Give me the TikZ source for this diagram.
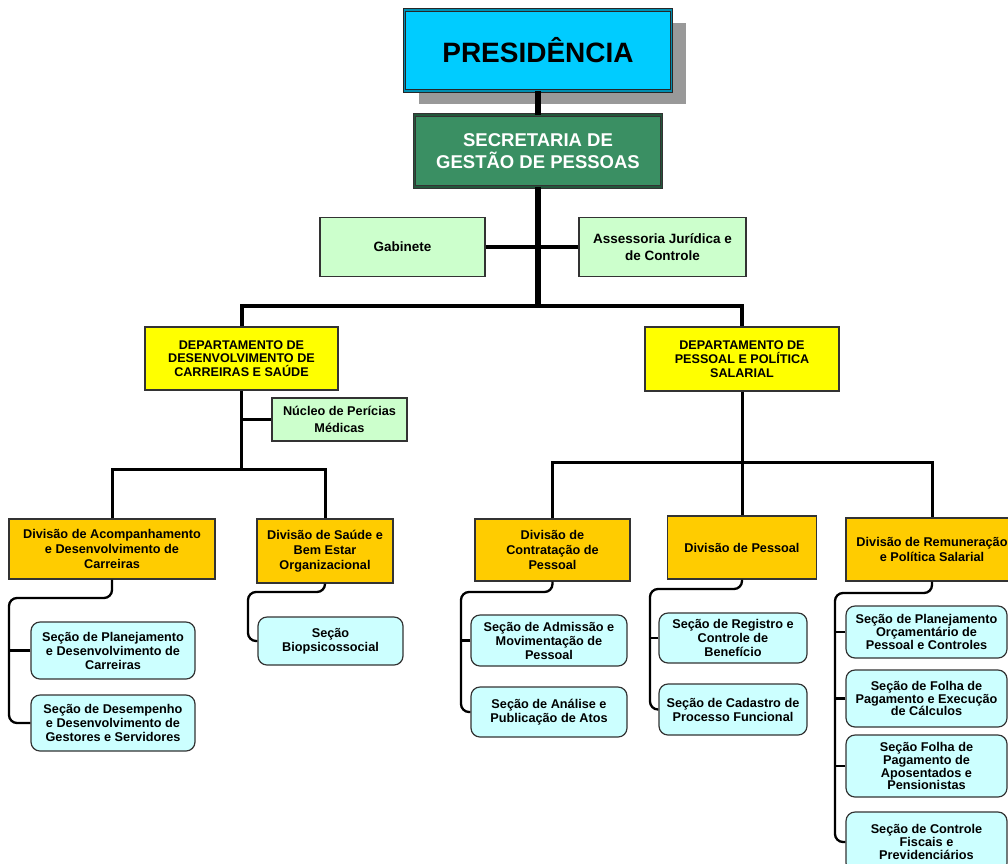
\documentclass[tikz,border=0pt]{standalone}
\usepackage{fontspec}
\setmainfont{Liberation Sans}
\usetikzlibrary{shadows}

\definecolor{presblue}{HTML}{00CCFF}
\definecolor{sgpgreen}{HTML}{3A8F63}
\definecolor{staffgreen}{HTML}{CCFFCC}
\definecolor{deptyellow}{HTML}{FFFF00}
\definecolor{divorange}{HTML}{FFCC00}
\definecolor{secaocyan}{HTML}{CCFFFF}

\begin{document}
\begin{tikzpicture}[x=1pt, y=-1pt, inner sep=0pt,
    box/.style={draw=black!80, line width=1.2pt, align=center,
        font=\bfseries\fontsize{12.7}{15}\selectfont},
    presbox/.style={box, fill=presblue, draw=black!85, line width=0.9pt,
        double=presblue!70!black, double distance=1.6pt,
        font=\bfseries\fontsize{28}{32}\selectfont,
        drop shadow={shadow xshift=14pt, shadow yshift=-13pt, fill=black!40, opacity=1}},
    sgpbox/.style={box, fill=sgpgreen, draw=black!80, line width=0.9pt,
        double=sgpgreen!60!black, double distance=1.6pt, text=white,
        font=\bfseries\fontsize{18.5}{22}\selectfont},
    staff/.style={box, fill=staffgreen, font=\bfseries\fontsize{13.5}{17}\selectfont},
    dept/.style={box, fill=deptyellow, font=\bfseries\fontsize{12.6}{13.8}\selectfont},
    divbox/.style={box, fill=divorange},
    secao/.style={box, fill=secaocyan, rounded corners=9pt,
        font=\bfseries\fontsize{12.7}{14}\selectfont},
    trunk/.style={line width=6pt},
    bar/.style={line width=4pt},
    branch/.style={line width=3pt},
    secline/.style={line width=2.3pt, rounded corners=8pt}]

  \fill[white] (0,0) rectangle (1008,863);
  \useasboundingbox (0,0) rectangle (1008,863);
  \clip (0,0) rectangle (1008,863);

  \node[presbox, minimum width=267pt, minimum height=81pt] (pres) at (538,50.5) {PRESIDÊNCIA};
  \node[sgpbox, minimum width=247pt, minimum height=72pt] (sgp) at (538,151) {SECRETARIA DE\\GESTÃO DE PESSOAS};
  \node[staff, minimum width=165pt, minimum height=59pt] (gab) at (402.5,247) {Gabinete};
  \node[staff, minimum width=167pt, minimum height=59pt] (assess) at (662.5,247) {Assessoria Jurídica e\\de Controle};

  \node[dept, minimum width=193pt, minimum height=63pt] (deptA) at (241.5,358.5) {DEPARTAMENTO DE\\DESENVOLVIMENTO DE\\CARREIRAS E SAÚDE};
  \node[dept, minimum width=194pt, minimum height=64pt] (deptB) at (742,359) {DEPARTAMENTO DE\\PESSOAL E POLÍTICA\\SALARIAL};
  \node[staff, font=\bfseries\fontsize{12.7}{16.5}\selectfont, minimum width=135pt, minimum height=43pt] (nucleo) at (339.5,419.5) {Núcleo de Perícias\\Médicas};

  \node[divbox, minimum width=206pt, minimum height=60pt] (divAcomp) at (112,549) {Divisão de Acompanhamento\\e Desenvolvimento de\\Carreiras};
  \node[divbox, minimum width=136pt, minimum height=64pt] (divSaude) at (325,551) {Divisão de Saúde e\\Bem Estar\\Organizacional};
  \node[divbox, minimum width=155pt, minimum height=62pt] (divContr) at (552.5,550) {Divisão de\\Contratação de\\Pessoal};
  \node[divbox, minimum width=149pt, minimum height=63pt] (divPess) at (742,547.5) {Divisão de Pessoal};
  \node[divbox, minimum width=172pt, minimum height=63pt] (divRem) at (932,549.5) {Divisão de Remuneração\\e Política Salarial};

  \node[secao, minimum width=164pt, minimum height=57pt] (secPlan) at (113,650.5) {Seção de Planejamento\\e Desenvolvimento de\\Carreiras};
  \node[secao, minimum width=164pt, minimum height=56pt] (secDesemp) at (113,723) {Seção de Desempenho\\e Desenvolvimento de\\Gestores e Servidores};
  \node[secao, minimum width=145pt, minimum height=48pt] (secBio) at (330.5,641) {Seção\\Biopsicossocial};
  \node[secao, minimum width=156pt, minimum height=51pt] (secAdm) at (549,640.5) {Seção de Admissão e\\Movimentação de\\Pessoal};
  \node[secao, minimum width=156pt, minimum height=50pt] (secAnal) at (549,712) {Seção de Análise e\\Publicação de Atos};
  \node[secao, minimum width=148pt, minimum height=50pt] (secReg) at (733,638) {Seção de Registro e\\Controle de\\Benefício};
  \node[secao, minimum width=148pt, minimum height=51pt] (secCad) at (733,709.5) {Seção de Cadastro de\\Processo Funcional};
  \node[secao, font=\bfseries\fontsize{12.7}{12.8}\selectfont, minimum width=161pt, minimum height=52pt] (secOrc) at (926.5,632) {Seção de Planejamento\\Orçamentário de\\Pessoal e Controles};
  \node[secao, font=\bfseries\fontsize{12.7}{12.8}\selectfont, minimum width=161pt, minimum height=57pt] (secFolha) at (926.5,698.5) {Seção de Folha de\\Pagamento e Execução\\de Cálculos};
  \node[secao, font=\bfseries\fontsize{12.7}{11.2}\selectfont, minimum width=161pt, minimum height=62pt] (secApos) at (926.5,766) {Seção Folha de\\Pagamento de\\Aposentados e\\Pensionistas};
  \node[secao, font=\bfseries\fontsize{12.7}{12.8}\selectfont, minimum width=161pt, minimum height=60pt] (secCtrl) at (926.5,842) {Seção de Controle\\Fiscais e\\Previdenciários};

  \coordinate (j1) at (538,306);
  \coordinate (j2) at (241.5,469);
  \coordinate (j3) at (742,462);
  \draw[trunk] (pres.south) -- (sgp.north);
  \draw[trunk] (sgp.south) -- (j1);
  \draw[bar] (gab.east) -- (assess.west);
  \draw[bar] (deptA.north) |- (j1) -| (deptB.north);

  \draw[branch] (deptA.south) -- (j2);
  \draw[branch] (nucleo.west) -- (nucleo.west -| deptA.south);
  \draw[branch] (divAcomp.north) |- (j2) -| (divSaude.north);
  \draw[branch] (deptB.south) -- (j3);
  \draw[branch] (divContr.north) |- (j3) -| (divRem.north);
  \draw[branch] (j3) -- (divPess.north);

  \coordinate (spA) at (9,598);
  \coordinate (spS) at (248,592);
  \coordinate (spC) at (461,592);
  \coordinate (spP) at (650,589);
  \coordinate (spR) at (835,593);
  \draw[secline] (divAcomp.south) |- (spA) |- (secDesemp.west);
  \draw[secline] (secPlan.west) -- (secPlan.west -| spA);
  \draw[secline] (divSaude.south) |- (spS) |- (secBio.west);
  \draw[secline] (divContr.south) |- (spC) |- (secAnal.west);
  \draw[secline] (secAdm.west) -- (secAdm.west -| spC);
  \draw[secline] (divPess.south) |- (spP) |- (secCad.west);
  \draw[secline] (secReg.west) -- (secReg.west -| spP);
  \draw[secline] (divRem.south) |- (spR) |- (secCtrl.west);
  \draw[secline] (secOrc.west) -- (secOrc.west -| spR);
  \draw[secline] (secFolha.west) -- (secFolha.west -| spR);
  \draw[secline] (secApos.west) -- (secApos.west -| spR);
\end{tikzpicture}
\end{document}
